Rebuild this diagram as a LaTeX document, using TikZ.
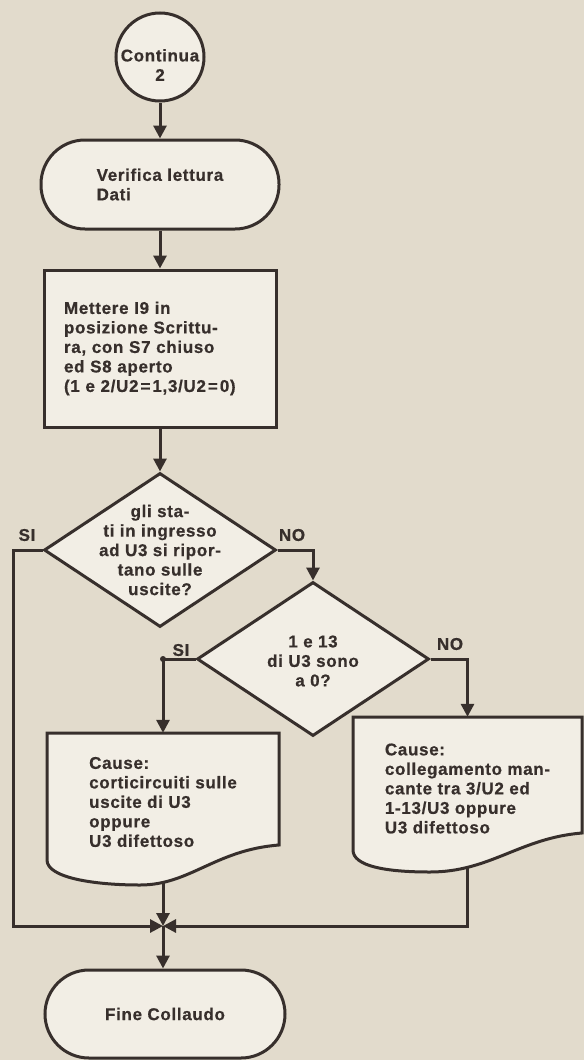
\documentclass[tikz,border=0pt]{standalone}
\usepackage{fontspec}
\setmainfont{Liberation Sans}[LetterSpace=4, BoldFeatures={FakeBold=0.6}]
\usetikzlibrary{shapes.geometric,arrows.meta}

\definecolor{paper}{RGB}{226,219,204}
\definecolor{card}{RGB}{242,238,229}
\definecolor{ink}{RGB}{55,47,44}

\begin{document}
\begin{tikzpicture}[x=1pt, y=-1pt,
  every node/.style={font=\fontsize{17}{19.5}\selectfont\bfseries, text=ink},
  box/.style={draw=ink, line width=3pt, fill=card, inner sep=0pt},
  conn/.style={box, circle, minimum size=88},
  term/.style={box, rectangle, rounded corners=44pt, minimum width=238, minimum height=89, align=left},
  proc/.style={box, rectangle, minimum width=232, minimum height=157, text width=192, align=left},
  deci/.style={box, diamond, minimum width=232, minimum height=154},
  doc/.style={rectangle, inner sep=0pt, minimum width=232, align=left},
  txt/.style={align=center},
  arr/.style={draw=ink, line width=3pt, -{Triangle[length=13pt,width=13pt]}}]

\fill[paper] (0,0) rectangle (584,1060);
\useasboundingbox (0,0) rectangle (584,1060);

% blocks
\node[conn] (cont) at (160,57) {};
\node[txt] (contt) at (160,65) {Continua\\2};
\node[term] (ver) at (160,184.5) {Verifica lettura\\Dati};
\node[proc] (proc) at (160,348.5) {Mettere I9 in\\posizione Scrittu-\\ra, con S7 chiuso\\ed S8 aperto\\(1 e 2/U2\kern2pt=\kern2pt1,3/U2\kern2pt=\kern2pt0)};
\node[deci] (d1) at (160,550) {};
\node[txt] (d1t) at (160,550) {gli sta-\\ti in ingresso\\ad U3 si ripor-\\tano sulle\\uscite?};
\node[deci] (d2) at (313,659) {};
\node[txt] (d2t) at (313,661) {1 e 13\\di U3 sono\\a 0?};

% documents
\draw[box] (47,733) -- (279,733) -- (279,845) .. controls (215,850) and (190,885) .. (140,885) .. controls (95,885) and (47,878) .. (47,860) -- cycle;
\draw[box] (353,717) -- (582,717) -- (582,833) .. controls (520,838) and (490,872) .. (430,872) .. controls (385,872) and (353,866) .. (353,850) -- cycle;
\node[doc, minimum height=138] (cs) at (163,802) {Cause:\\corticircuiti sulle\\uscite di U3\\oppure\\U3 difettoso};
\node[doc, minimum height=143, minimum width=229] (cn) at (467.5,788.5) {Cause:\\collegamento man-\\cante tra 3/U2 ed\\1-13/U3 oppure\\U3 difettoso};
\coordinate (csb) at (163,882);
\coordinate (cnb) at (467,867);
\coordinate (jn) at (163,926);
\coordinate (lft) at (13,926);

\node[term, minimum width=240, minimum height=88] (fine) at (165,1014) {Fine Collaudo};

\node (si1) at (27,535) {SI};
\node (no1) at (292,535) {NO};
\node (si2) at (181,650) {SI};
\node (no2) at (450,644) {NO};

% connectors
\draw[arr] (cont) -- (ver);
\draw[arr] (ver) -- (proc);
\draw[arr] (proc) -- (d1);
\draw[arr] (d1.east) -| (d2.north);
\draw[arr] (d1.west) -| (lft) -- (jn);
\draw[arr] (d2.west) -| (cs.north);
\fill[ink] (d2.west -| cs.north) circle[radius=3pt];
\draw[arr] (d2.east) -| (cn.north);
\draw[arr] (csb) -- (jn);
\draw[arr] (cnb) |- (jn);
\draw[arr] (jn) -- (jn |- fine.north);
\end{tikzpicture}
\end{document}
